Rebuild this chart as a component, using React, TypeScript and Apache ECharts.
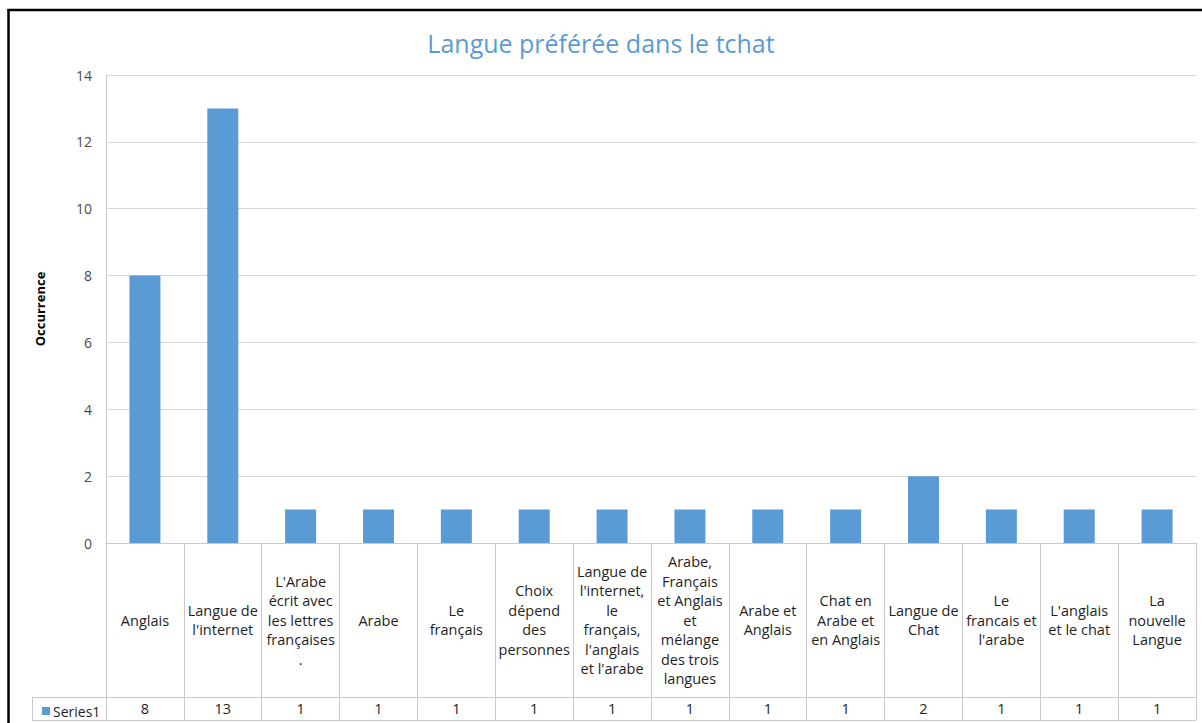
import React, { useEffect, useRef } from "react";
import * as echarts from "echarts";

const title = "Langue préférée dans le tchat";
const yAxisName = "Occurrence";
const seriesName = "Series1";
const categories = [
  "Anglais",
  "Langue de\nl'internet",
  "L'Arabe\nécrit avec\nles lettres\nfrançaises\n.",
  "Arabe",
  "Le\nfrançais",
  "Choix\ndépend\ndes\npersonnes",
  "Langue de\nl'internet,\nle\nfrançais,\nl'anglais\net l'arabe",
  "Arabe,\nFrançais\net Anglais\net\nmélange\ndes trois\nlangues",
  "Arabe et\nAnglais",
  "Chat en\nArabe et\nen Anglais",
  "Langue de\nChat",
  "Le\nfrancais et\nl'arabe",
  "L'anglais\net le chat",
  "La\nnouvelle\nLangue",
];
const values = [8, 13, 1, 1, 1, 1, 1, 1, 1, 1, 2, 1, 1, 1];
const yMin = 0;
const yMax = 14;
const yInterval = 2;

const FONT = "Open Sans";
const GRID_LEFT = 106;
const GRID_RIGHT = 1196;
const GRID_TOP = 75;
const GRID_BOTTOM = 543;
const HEADER_H = 154;
const ROW_H = 23;
const LINE = "#c9c9c9";
const TEXT = "#1f1f1f";
const BLUE = "#5b9bd5";

export default function App() {
  const ref = useRef<HTMLDivElement>(null);
  useEffect(() => {
    if (!ref.current) return;
    const chart = echarts.init(ref.current, null, { renderer: "svg" });
    const tableBottom = GRID_BOTTOM + HEADER_H + ROW_H;
    chart.setOption({
      animation: false,
      backgroundColor: "#ffffff",
      title: {
        text: title,
        left: "center",
        top: 25,
        textStyle: { fontFamily: FONT, fontSize: 25, fontWeight: "normal", color: BLUE },
      },
      legend: {
        data: [seriesName],
        left: 37,
        top: GRID_BOTTOM + HEADER_H + 2,
        icon: "rect",
        itemWidth: 8,
        itemHeight: 8,
        itemGap: 4,
        textStyle: { fontFamily: FONT, fontSize: 14, color: TEXT, padding: [0, 0, 0, -2] },
        selectedMode: false,
      },
      grid: {
        left: GRID_LEFT,
        top: GRID_TOP,
        width: GRID_RIGHT - GRID_LEFT,
        height: GRID_BOTTOM - GRID_TOP,
        containLabel: false,
      },
      xAxis: [
        {
          type: "category",
          data: categories,
          position: "bottom",
          boundaryGap: true,
          axisLine: { show: true, lineStyle: { color: LINE, width: 1 } },
          axisTick: { show: true, interval: 0, length: HEADER_H + ROW_H, lineStyle: { color: LINE } },
          axisLabel: {
            interval: 0,
            margin: HEADER_H / 2,
            verticalAlign: "middle",
            align: "center",
            lineHeight: 19.5,
            fontFamily: FONT,
            fontSize: 14.5,
            color: TEXT,
          },
          splitLine: { show: false },
        },
        {
          type: "category",
          data: categories,
          position: "bottom",
          offset: HEADER_H,
          boundaryGap: true,
          axisLine: { show: true, lineStyle: { color: LINE, width: 1 } },
          axisTick: { show: false },
          axisLabel: {
            interval: 0,
            margin: ROW_H / 2,
            verticalAlign: "middle",
            fontFamily: FONT,
            fontSize: 14.5,
            color: TEXT,
            formatter: (_v: string, i: number) => String(values[i]),
          },
        },
        {
          type: "category",
          data: categories,
          position: "bottom",
          offset: HEADER_H + ROW_H,
          axisLine: { show: true, lineStyle: { color: LINE, width: 1 } },
          axisTick: { show: false },
          axisLabel: { show: false },
        },
      ],
      yAxis: {
        type: "value",
        min: yMin,
        max: yMax,
        interval: yInterval,
        name: yAxisName,
        nameLocation: "middle",
        nameRotate: 90,
        nameGap: 60,
        nameTextStyle: { fontFamily: FONT, fontSize: 13, fontWeight: "bold", color: "#000" },
        axisLine: { show: true, lineStyle: { color: LINE } },
        axisTick: { show: false },
        axisLabel: { margin: 14, fontFamily: FONT, fontSize: 14, color: "#4a4a4a" },
        splitLine: { show: true, lineStyle: { color: "#d9d9d9" } },
      },
      series: [
        {
          name: seriesName,
          type: "bar",
          data: values,
          barWidth: 31,
          itemStyle: { color: BLUE },
        },
      ],
      graphic: [
        {
          type: "line",
          shape: { x1: 7.5, y1: 10, x2: 1202, y2: 10 },
          style: { stroke: "#000", lineWidth: 2.5 },
          silent: true,
        },
        {
          type: "line",
          shape: { x1: 8.5, y1: 9, x2: 8.5, y2: 723 },
          style: { stroke: "#000", lineWidth: 2.5 },
          silent: true,
        },
        {
          type: "line",
          shape: { x1: 32, y1: GRID_BOTTOM + HEADER_H + 0.5, x2: GRID_LEFT, y2: GRID_BOTTOM + HEADER_H + 0.5 },
          style: { stroke: LINE, lineWidth: 1 },
          silent: true,
        },
        {
          type: "line",
          shape: { x1: 32, y1: tableBottom + 0.5, x2: GRID_LEFT, y2: tableBottom + 0.5 },
          style: { stroke: LINE, lineWidth: 1 },
          silent: true,
        },
        {
          type: "line",
          shape: { x1: 32.5, y1: GRID_BOTTOM + HEADER_H, x2: 32.5, y2: tableBottom },
          style: { stroke: LINE, lineWidth: 1 },
          silent: true,
        },
      ],
    });
    return () => chart.dispose();
  }, []);
  return (
    <div
      ref={ref}
      style={{ position: "fixed", left: 0, top: 0, width: 1202, height: 723, background: "#fff" }}
    />
  );
}
